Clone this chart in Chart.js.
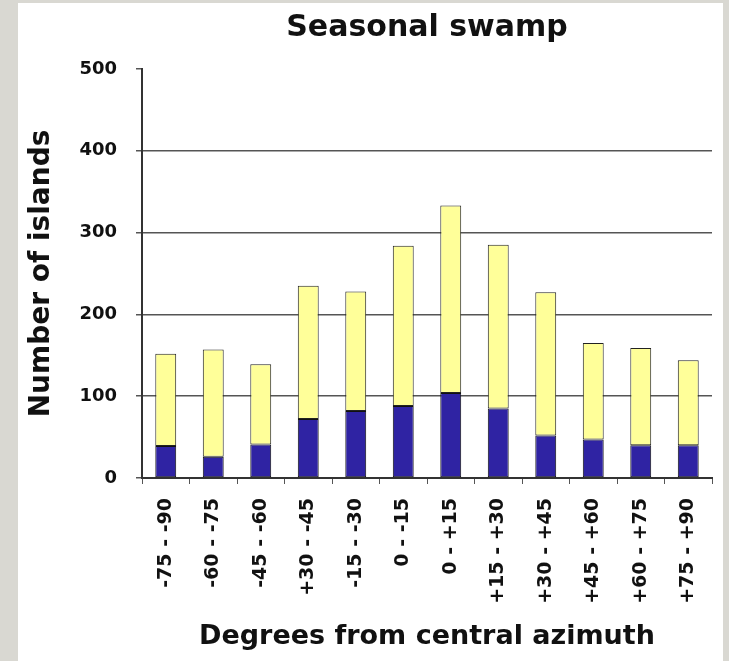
<!DOCTYPE html>
<html>
<head>
<meta charset="utf-8">
<script src="https://cdn.jsdelivr.net/npm/chart.js@4"></script>
<style>
  html, body { margin: 0; padding: 0; }
  body { width: 729px; height: 661px; background: #d9d8d2; position: relative; overflow: hidden; }
  #panel { position: absolute; left: 18px; top: 3px; width: 705px; height: 658px; background: #ffffff; }
  #wrap { position: absolute; left: 0; top: 0; width: 729px; height: 661px; }
</style>
</head>
<body>
<div id="panel"></div>
<div id="wrap"><canvas id="c" width="729" height="661"></canvas></div>
<script>
const categories = ["-75 - -90", "-60 - -75", "-45 - -60", "+30 - -45", "-15 - -30", "0 - -15",
                    "0 - +15", "+15 - +30", "+30 - +45", "+45 - +60", "+60 - +75", "+75 - +90"];
const bottomSeries = [39, 26, 41, 72, 82, 88, 104, 85, 52, 47, 40, 40];
const topSeries    = [113, 131, 98, 163, 146, 196, 229, 200, 175, 118, 119, 104];
const yTicks = [0, 100, 200, 300, 400, 500];

const FONT = "'DejaVu Sans', 'Liberation Sans', Arial, sans-serif";

new Chart(document.getElementById('c'), {
  type: 'bar',
  data: {
    labels: categories,
    datasets: [
      { label: 'A', data: bottomSeries, backgroundColor: '#2f23a3', borderColor: '#111111', borderWidth: 1, borderSkipped: false },
      { label: 'B', data: topSeries, backgroundColor: '#ffff99', borderColor: '#222222', borderWidth: 1, borderSkipped: false }
    ]
  },
  options: {
    responsive: false,
    animation: false,
    devicePixelRatio: 1,
    layout: { padding: { left: 25, right: 17, top: 0, bottom: 8 } },
    datasets: { bar: { categoryPercentage: 1, barPercentage: 0.44 } },
    plugins: {
      legend: { display: false },
      tooltip: { enabled: false },
      title: {
        display: true,
        text: 'Seasonal swamp',
        fullSize: false,
        color: '#111',
        font: { family: FONT, size: 30, weight: 'bold' },
        padding: { top: 10, bottom: 23 }
      }
    },
    scales: {
      x: {
        stacked: true,
        afterFit: (s) => { s.height = 175; },
        border: { display: true, color: '#333', width: 2 },
        grid: { display: true, offset: true, drawOnChartArea: false, drawTicks: true, tickLength: 6, color: '#555' },
        ticks: {
          color: '#111',
          font: { family: FONT, size: 19, weight: 'bold' },
          minRotation: 90, maxRotation: 90, autoSkip: false, padding: 14
        },
        title: {
          display: true,
          text: 'Degrees from central azimuth',
          color: '#111',
          font: { family: FONT, size: 27, weight: 'bold' },
          padding: { top: 0, bottom: 0 }
        }
      },
      y: {
        stacked: true,
        min: 0, max: 500,
        afterFit: (s) => { s.width = 117; },
        afterBuildTicks: (s) => { s.ticks = yTicks.map(v => ({ value: v })); },
        border: { display: true, color: '#333', width: 2 },
        grid: {
          drawTicks: true, tickLength: 6,
          color: (ctx) => (ctx.tick && (ctx.tick.value === 500 || ctx.tick.value === 0)) ? 'rgba(0,0,0,0)' : '#555',
          tickColor: '#555',
          lineWidth: 1.5
        },
        ticks: {
          color: '#111',
          font: { family: FONT, size: 18, weight: 'bold' },
          padding: 19
        },
        title: {
          display: true,
          text: 'Number of islands',
          color: '#111',
          font: { family: FONT, size: 28, weight: 'bold' },
          padding: { top: 0, bottom: 0 }
        }
      }
    }
  }
});
</script>
</body>
</html>
